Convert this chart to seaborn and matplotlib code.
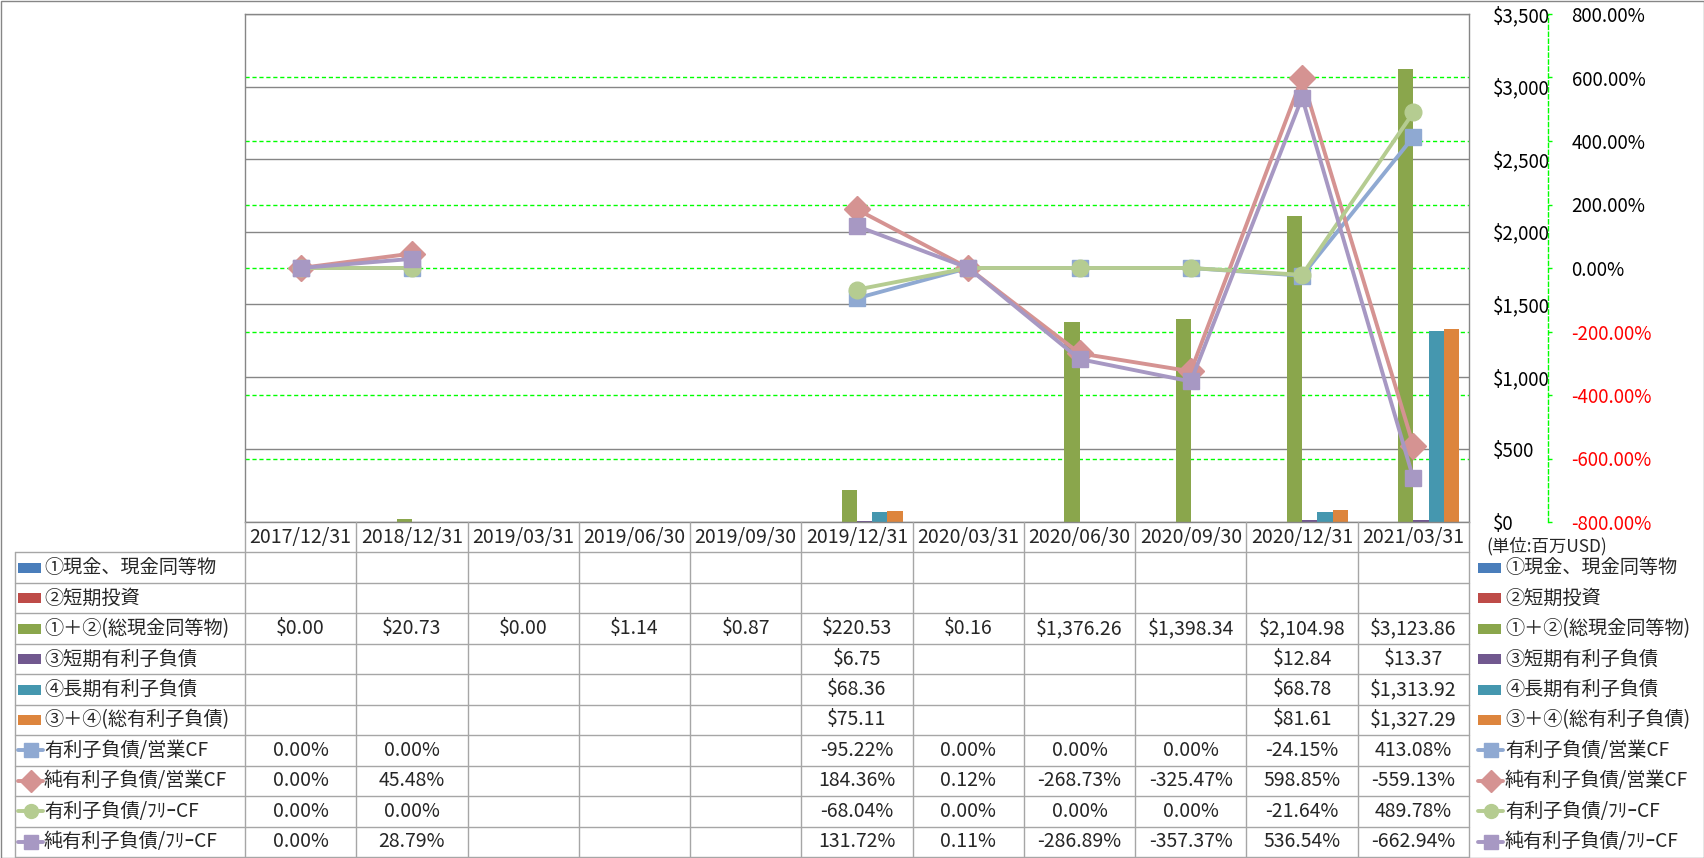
import numpy as np
import pandas as pd
import matplotlib
matplotlib.use("Agg")
import matplotlib.pyplot as plt
import seaborn as sns
from matplotlib.transforms import blended_transform_factory
from matplotlib.patches import Rectangle
from matplotlib.ticker import FuncFormatter

nan = np.nan
# ---------------- data ----------------
categories = ["2017/12/31", "2018/12/31", "2019/03/31", "2019/06/30", "2019/09/30",
              "2019/12/31", "2020/03/31", "2020/06/30", "2020/09/30", "2020/12/31", "2021/03/31"]

cash = [nan] * 11
short_invest = [nan] * 11
total_cash = [0.00, 20.73, 0.00, 1.14, 0.87, 220.53, 0.16, 1376.26, 1398.34, 2104.98, 3123.86]
short_debt = [nan, nan, nan, nan, nan, 6.75, nan, nan, nan, 12.84, 13.37]
long_debt = [nan, nan, nan, nan, nan, 68.36, nan, nan, nan, 68.78, 1313.92]
total_debt = [nan, nan, nan, nan, nan, 75.11, nan, nan, nan, 81.61, 1327.29]

debt_ocf = [0.00, 0.00, nan, nan, nan, -95.22, 0.00, 0.00, 0.00, -24.15, 413.08]
net_debt_ocf = [0.00, 45.48, nan, nan, nan, 184.36, 0.12, -268.73, -325.47, 598.85, -559.13]
debt_fcf = [0.00, 0.00, nan, nan, nan, -68.04, 0.00, 0.00, 0.00, -21.64, 489.78]
net_debt_fcf = [0.00, 28.79, nan, nan, nan, 131.72, 0.11, -286.89, -357.37, 536.54, -662.94]

bar_names = ["①現金、現金同等物", "②短期投資", "①＋②(総現金同等物)",
             "③短期有利子負債", "④長期有利子負債", "③＋④(総有利子負債)"]
line_names = ["有利子負債/営業CF", "純有利子負債/営業CF", "有利子負債/ﾌﾘｰCF", "純有利子負債/ﾌﾘｰCF"]
unit_label = "(単位:百万USD)"

bar_series = [cash, short_invest, total_cash, short_debt, long_debt, total_debt]
line_series = [debt_ocf, net_debt_ocf, debt_fcf, net_debt_fcf]

bar_colors = ["#4A7EBB", "#BE4B48", "#8AA64C", "#71588F", "#4597AF", "#DD853D"]
line_colors = ["#8FA9D2", "#D59392", "#B5CC91", "#A798C3"]
line_markers = ["s", "D", "o", "s"]

# ---------------- style ----------------
sns.set_theme(style="white")
plt.rcParams['font.family'] = ['Noto Sans CJK JP', 'DejaVu Sans']

W, H = 1704, 858
fig = plt.figure(figsize=(W / 100, H / 100), dpi=100)
L, R, T, B = 245, 1469, 14, 522
BOT = 857
ax = fig.add_axes([L / W, 1 - B / H, (R - L) / W, (B - T) / H])

rows = []
for name, vals in zip(bar_names, bar_series):
    for c, v in zip(categories, vals):
        rows.append({"date": c, "series": name, "value": v})
df = pd.DataFrame(rows)

sns.barplot(data=df, x="date", y="value", hue="series", order=categories,
            hue_order=bar_names, palette=bar_colors, width=0.82, saturation=1,
            linewidth=0, errorbar=None, legend=False, ax=ax)

ax2 = ax.twinx()

ax.set_xlim(-0.5, len(categories) - 0.5)
ax.set_ylim(0, 3500)
ax.set_yticks(np.arange(0, 3501, 500))
ax.yaxis.set_major_formatter(FuncFormatter(lambda v, p: f"${v:,.0f}"))
ax.yaxis.tick_right()
ax.yaxis.set_label_position("right")
ax.tick_params(axis="y", which="both", left=False, right=False, labelleft=False,
               labelright=True, length=0, pad=17, labelsize=13.5, labelcolor="black")
ax.set_xticks([])
ax.set_xlabel("")
ax.set_ylabel("")
ax.yaxis.grid(True, color="#868686", lw=1)
ax.set_axisbelow(True)
for s in ax.spines.values():
    s.set_color("#868686")
    s.set_linewidth(1)

ax2.set_ylim(-800, 800)
pct_ticks = np.arange(-800, 801, 200)
ax2.set_yticks(pct_ticks)
ax2.yaxis.set_major_formatter(FuncFormatter(lambda v, p: f"{v:.2f}%"))
for k in ["top", "left", "bottom"]:
    ax2.spines[k].set_visible(False)
ax2.spines["right"].set_position(("axes", (1548 - L) / (R - L)))
ax2.spines["right"].set_color("#00FF00")
ax2.spines["right"].set_linestyle((0, (3, 2)))
ax2.spines["right"].set_linewidth(1)
ax2.tick_params(axis="y", length=3, width=1, color="#00FF00", pad=14, labelsize=13.5)
for lbl, t in zip(ax2.get_yticklabels(), pct_ticks):
    lbl.set_color("#FF0000" if t < 0 else "black")

# secondary gridlines, drawn behind the bars
btf = blended_transform_factory(ax.transAxes, ax2.transData)
for t in pct_ticks[1:-1]:
    ax.plot([0, 1], [t, t], transform=btf, color="#00FF00", lw=1,
            ls=(0, (3, 2)), zorder=0.6)

x = np.arange(len(categories))
for vals, c, m in zip(line_series, line_colors, line_markers):
    ms = 12 if m != "D" else 13
    ax2.plot(x, vals, color=c, lw=2.8, marker=m, ms=ms, mfc=c, mec=c,
             solid_joinstyle="round", zorder=3)

# ---------------- data table ----------------
tab = fig.add_axes([0, 0, 1, 1], zorder=5)
tab.set_xlim(0, W)
tab.set_ylim(H, 0)
tab.axis("off")

n = len(categories)
cw = (R - L) / n
rh = (BOT - B) / 11
grid_c = "#A6A6A6"
LX = 15

for k in range(1, 12):
    y = B + k * rh
    tab.plot([LX, R], [y, y], color=grid_c, lw=1)
for j in range(n + 1):
    xx = L + j * cw
    tab.plot([xx, xx], [B, BOT], color=grid_c, lw=1)
tab.plot([LX, LX], [B + rh, BOT], color=grid_c, lw=1)

fs = 13.8
fsn = 14
for j, c in enumerate(categories):
    tab.text(L + (j + 0.5) * cw, B + rh / 2, c, ha="center", va="center", fontsize=fsn)

all_names = bar_names + line_names
all_series = bar_series + line_series


def fmt(v, is_bar):
    if np.isnan(v):
        return ""
    return f"${v:,.2f}" if is_bar else f"{v:.2f}%"


def legend_key(x0, yc, i):
    if i < len(bar_names):
        tab.add_patch(Rectangle((x0, yc - 5), 23, 10, color=bar_colors[i], lw=0))
    else:
        k = i - len(bar_names)
        c = line_colors[k]
        tab.plot([x0, x0 + 25], [yc, yc], color=c, lw=2.8)
        ms = 10 if line_markers[k] != "D" else 11
        tab.plot([x0 + 12.5], [yc], marker=line_markers[k], ms=ms, color=c, mec=c)


for i, (name, vals) in enumerate(zip(all_names, all_series)):
    yc = B + (i + 1.5) * rh
    is_bar = i < len(bar_names)
    legend_key(LX + 3, yc, i)
    tab.text(LX + 29, yc, name, ha="left", va="center", fontsize=fs)
    for j, v in enumerate(vals):
        tab.text(L + (j + 0.5) * cw, yc, fmt(v, is_bar), ha="center", va="center", fontsize=fsn)
    legend_key(1478, yc, i)
    tab.text(1478 + 27, yc, name, ha="left", va="center", fontsize=fs)

tab.text(1486, 546, unit_label, ha="left", va="center", fontsize=12.5)
tab.add_patch(Rectangle((0.5, 0.5), W - 1, H - 1, fill=False, ec="#868686", lw=1))

fig.savefig("out.png", dpi=100)
